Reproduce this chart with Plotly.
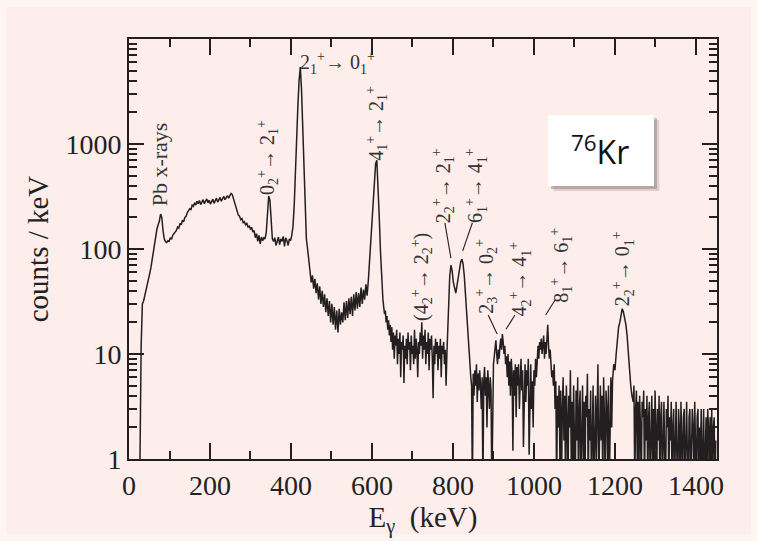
import math
import plotly.graph_objects as go

# gamma-ray spectrum of 76Kr, counts per keV
# segment 1: 3 keV bins, 27 - 624 keV
counts_low = [
    0.9, 12, 30, 32, 36, 40, 46, 52, 58, 66,
    80, 95, 110, 135, 155, 170, 185, 215, 200, 150,
    125, 118, 115, 120, 118, 128, 124, 135, 140, 148,
    150, 162, 158, 175, 170, 188, 182, 200, 205, 222,
    230, 242, 238, 262, 255, 275, 262, 285, 270, 290,
    265, 282, 295, 270, 288, 300, 275, 292, 268, 285,
    298, 272, 290, 305, 280, 296, 310, 285, 300, 318,
    295, 310, 322, 305, 325, 338, 330, 300, 270, 245,
    225, 210, 205, 190, 195, 178, 182, 170, 175, 162,
    165, 155, 160, 145, 150, 128, 140, 118, 135, 112,
    130, 120, 128, 125, 145, 210, 320, 290, 165, 125,
    118, 128, 108, 122, 130, 110, 125, 118, 132, 106,
    128, 120, 108, 125, 120, 135, 165, 260, 600, 1150,
    2300, 4000, 5400, 3300, 1500, 520, 200, 125, 100, 78,
    62, 48, 56, 42, 52, 38, 47, 33, 44, 30,
    40, 28, 37, 25, 34, 23, 32, 20, 30, 19,
    28, 17, 26, 16, 27, 19, 25, 20, 31, 21,
    32, 22, 34, 24, 35, 23, 37, 26, 39, 27,
    38, 28, 43, 30, 41, 33, 46, 36, 50, 75,
    110, 160, 280, 450, 650, 700, 420, 200, 95, 45,
]
# segment 2: 2 keV bins, 627 - 787 keV
counts_noise1 = [
    33, 28, 24, 26, 20, 23, 17, 21, 15, 19,
    13, 18, 11, 16, 9, 15, 12, 17, 8, 14,
    10, 16, 6, 13, 11, 15, 5.3, 12, 9, 14,
    8, 16, 11, 13, 7, 15, 10, 12, 8, 17,
    9, 14, 11, 6, 13, 10, 16, 12, 20, 9,
    15, 11, 17, 8, 13, 10, 16, 7, 14, 11,
    15, 9, 3.8, 12, 8, 14, 10, 13, 7, 12,
    9, 14, 6, 12, 10, 13, 8, 11, 5, 10,
    16,
]
# segment 3: 3 keV bins, 789 - 840 keV (2+2 -> 2+1 and 6+1 -> 4+1 doublet)
counts_doublet = [35, 55, 70, 62, 48, 42, 38, 45, 55, 65, 75, 80, 72, 55, 38, 25, 16, 10]
# segment 4: 2 keV bins, 842 - 1044 keV
counts_noise2 = [
    8, 6, 5, 0.5, 6.5, 4, 7, 5, 8, 3.5,
    6.5, 4.5, 7, 5, 3, 6, 0.5, 5.5, 7.5, 4,
    6, 2, 7, 5, 3, 6, 4.5, 0.5, 6, 8,
    9.5, 12, 13.5, 10, 8, 11, 9, 12, 14, 11,
    15.5, 13, 10, 12, 8, 9.5, 6, 10, 5, 8.5,
    4, 9, 6.5, 1.2, 7, 4, 8, 2.5, 7.5, 5,
    8, 3, 6.5, 9, 4.5, 7, 1.3, 6.5, 8, 3.5,
    7, 5, 9, 1.1, 6, 8, 3, 5.5, 2, 7,
    5, 9, 6, 10, 12, 9, 13, 11, 14, 10,
    12, 15, 9, 13, 10, 16, 19, 12, 9, 11,
    7, 6,
]
# segment 5: 2 keV bins, 1046 - 1194 keV
counts_tail1 = [
    7, 5, 8, 3, 5.5, 0.5, 4, 2, 5, 1,
    4.5, 0.5, 3, 6, 1.5, 4, 0.5, 5, 2.5, 0.5,
    4, 2, 7, 1, 3.5, 0.5, 5, 2.5, 0.5, 4.5,
    1.5, 6, 0.5, 3, 4.5, 0.5, 2, 5, 1, 3.5,
    0.5, 4, 2.5, 6.5, 0.5, 3, 1.5, 4.5, 0.5, 3.5,
    5, 0.5, 2, 4, 1, 3.5, 8, 0.5, 3, 5,
    1.5, 4, 0.5, 6, 2.5, 0.5, 4.5, 3, 1, 5,
    0.5, 4, 6, 2, 5.5,
]
# segment 6: 3 keV bins, 1197 - 1242 keV (2+2 -> 0+1)
counts_peak = [8, 7, 10, 14, 18, 20, 24, 27, 25, 22, 19, 15, 10, 7, 5, 4]
# segment 7: 2 keV bins, 1245 - 1449 keV
counts_tail2 = [
    3.5, 5, 0.5, 3, 4.5, 1, 3.5, 0.5, 4, 2,
    0.5, 3.5, 2.5, 4.5, 0.5, 3, 1.5, 4, 0.5, 2.5,
    3.5, 0.5, 2, 4, 1, 3, 0.5, 4.5, 2, 0.5,
    3, 1.5, 4, 0.5, 2.5, 3.5, 0.5, 2, 3.5, 1,
    0.5, 3, 2, 4, 0.5, 2.5, 1.5, 3.5, 0.5, 2,
    3, 0.5, 2.5, 3.5, 1, 0.5, 3, 2, 0.5, 3.5,
    1.5, 0.5, 2.5, 3, 0.5, 2, 3.5, 1, 0.5, 2.5,
    3, 0.5, 1.5, 3, 2, 0.5, 3.5, 1.5, 0.5, 2.5,
    3, 0.5, 2, 1, 3, 0.5, 2.5, 3, 0.5, 1.5,
    2.5, 0.5, 3, 2, 0.5, 2.5, 1, 3, 0.5, 2,
    2.5, 0.5, 1.5,
]

segments = [  # (first energy in keV, bin width in keV, counts)
    (27, 3, counts_low),
    (627, 2, counts_noise1),
    (789, 3, counts_doublet),
    (842, 2, counts_noise2),
    (1046, 2, counts_tail1),
    (1197, 3, counts_peak),
    (1245, 2, counts_tail2),
]
energies, counts = [], []
for start, step, vals in segments:
    energies += list(range(start, start + step * len(vals), step))
    counts += vals

# axis ticks
x_tickvals = [0, 200, 400, 600, 800, 1000, 1200, 1400]
y_tickvals = [1, 10, 100, 1000]
y_ticktext = ["1", "10", "100", "1000"]
y_minor = [m * 10 ** d for d in range(4) for m in range(2, 10)]

# transition labels: text, energy, counts, angle, size
label_texts = [
    "Pb x-rays",
    "0<sub>2</sub><sup>+</sup>→ 2<sub>1</sub><sup>+</sup>",
    "2<sub>1</sub><sup>+</sup>→ 0<sub>1</sub><sup>+</sup>",
    "4<sub>1</sub><sup>+</sup>→ 2<sub>1</sub><sup>+</sup>",
    "2<sub>2</sub><sup>+</sup>→ 2<sub>1</sub><sup>+</sup>",
    "6<sub>1</sub><sup>+</sup>→ 4<sub>1</sub><sup>+</sup>",
    "(4<sub>2</sub><sup>+</sup>→ 2<sub>2</sub><sup>+</sup>)",
    "2<sub>3</sub><sup>+</sup>→ 0<sub>2</sub><sup>+</sup>",
    "4<sub>2</sub><sup>+</sup>→ 4<sub>1</sub><sup>+</sup>",
    "8<sub>1</sub><sup>+</sup>→ 6<sub>1</sub><sup>+</sup>",
    "2<sub>2</sub><sup>+</sup>→ 0<sub>1</sub><sup>+</sup>",
]
label_E = [74, 343, 516, 612, 776, 857, 723, 883, 965, 1068, 1219]
label_counts = [640, 750, 5900, 1585, 398, 398, 54, 55, 52, 70, 65]
label_angle = [-90, -90, 0, -90, -90, -90, -90, -90, -90, -90, -90]
label_size = [22, 20, 20, 20, 20, 20, 20, 20, 20, 20, 20]

# leader lines (energy pairs, count pairs)
leader_E = [(780, 795), (848, 824), (887, 909), (953, 931), (1053, 1029)]
leader_counts = [(177, 82), (178, 96), (23.5, 15.5), (23.5, 17.2), (33, 23.5)]

ink = "#231f20"
pink = "#fdeeec"

fig = go.Figure()
fig.add_trace(go.Scatter(x=energies, y=counts, mode="lines",
                         line=dict(color=ink, width=1.5), showlegend=False,
                         hoverinfo="skip"))

lx, ly = [], []
for (e0, e1), (c0, c1) in zip(leader_E, leader_counts):
    lx += [e0, e1, None]
    ly += [c0, c1, None]
fig.add_trace(go.Scatter(x=lx, y=ly, mode="lines", line=dict(color=ink, width=1.1),
                         showlegend=False, hoverinfo="skip"))

annotations = []
for t, e, c, a, s in zip(label_texts, label_E, label_counts, label_angle, label_size):
    annotations.append(dict(x=e, y=math.log10(c), xref="x", yref="y", text=t,
                            textangle=a, showarrow=False, xanchor="center", yanchor="middle",
                            font=dict(family="Liberation Serif", size=s, color="#333333")))

# 76Kr label box
annotations.append(dict(x=0.801, y=0.735, xref="paper", yref="paper",
                        text="<sup>76</sup>Kr", showarrow=False, xanchor="center", yanchor="middle",
                        font=dict(family="Open Sans", size=32, color="#111111")))

shapes = [
    dict(type="rect", xref="paper", yref="paper", x0=-0.209, x1=1.058, y0=-0.179, y1=1.076,
         fillcolor=pink, line=dict(width=0), layer="below"),
    dict(type="rect", xref="paper", yref="paper", x0=0.7126 + 0.009, x1=0.8929 + 0.009,
         y0=0.65 - 0.012, y1=0.819 - 0.012, fillcolor="rgba(60,40,40,0.15)", line=dict(width=0)),
    dict(type="rect", xref="paper", yref="paper", x0=0.7126 + 0.005, x1=0.8929 + 0.005,
         y0=0.65 - 0.007, y1=0.819 - 0.007, fillcolor="rgba(60,40,40,0.25)", line=dict(width=0)),
    dict(type="rect", xref="paper", yref="paper", x0=0.7126, x1=0.8929, y0=0.65, y1=0.819,
         fillcolor="white", line=dict(width=0)),
]

axis_font = dict(family="Liberation Serif", size=28, color="#222222")
title_font = dict(family="Liberation Serif", size=29, color="#222222")

fig.update_layout(
    width=757, height=541,
    margin=dict(l=129, r=40, t=39, b=82),
    paper_bgcolor="#fef5f3",
    plot_bgcolor=pink,
    showlegend=False,
    annotations=annotations,
    shapes=shapes,
    xaxis=dict(range=[0, 1452], tickvals=x_tickvals, ticks="inside", ticklen=16, tickwidth=1.5,
               tickcolor=ink, showline=True, linecolor=ink, linewidth=2, mirror="ticks",
               showgrid=False, zeroline=False, tickfont=axis_font,
               minor=dict(dtick=100, ticks="inside", ticklen=8, tickwidth=1.5, tickcolor=ink,
                          showgrid=False),
               title=dict(text="E<sub>γ</sub>  (keV)", font=title_font, standoff=6)),
    yaxis=dict(type="log", range=[0, 4], tickvals=y_tickvals, ticktext=y_ticktext,
               ticks="inside", ticklen=15, tickwidth=1.5, tickcolor=ink, showline=True,
               linecolor=ink, linewidth=2, mirror="ticks", showgrid=False, zeroline=False,
               tickfont=axis_font,
               minor=dict(tickvals=y_minor, ticks="inside", ticklen=8, tickwidth=1.5,
                          tickcolor=ink, showgrid=False),
               title=dict(text="counts / keV", font=title_font, standoff=8)),
)

fig.write_html("out.html")
